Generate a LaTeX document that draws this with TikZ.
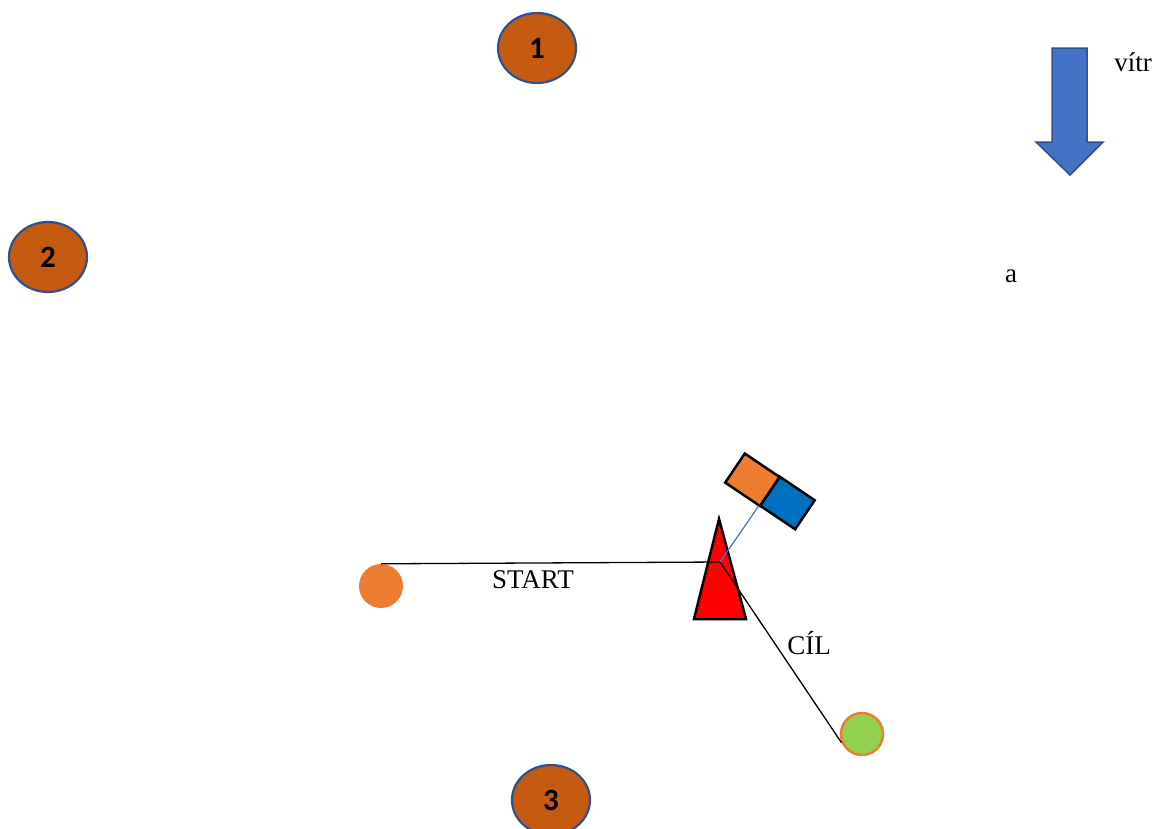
\documentclass[tikz,border=0pt]{standalone}
\usepackage{fontspec}
\setmainfont{Liberation Serif}
\newfontfamily\buoyfont{Carlito}
\usetikzlibrary{positioning}
\usetikzlibrary{shapes.geometric}

\definecolor{buoybrown}{HTML}{C55A11}
\definecolor{edgeblue}{HTML}{2F528F}
\definecolor{windblue}{HTML}{4472C4}
\definecolor{sailorange}{HTML}{ED7D31}
\definecolor{sailblue}{HTML}{0070C0}
\definecolor{goalgreen}{HTML}{92D050}

\begin{document}
\begin{tikzpicture}[x=1pt,y=-1pt,
                    font=\fontsize{27}{32}\selectfont,
                    buoy node/.style={ellipse,draw=edgeblue,line width=2.2pt,fill=buoybrown,
                                      minimum width=78pt,minimum height=70pt,inner sep=0pt,
                                      font=\buoyfont\bfseries\fontsize{31}{34}\selectfont},
                    mark node/.style={circle,minimum size=44pt,inner sep=0pt},
                    sail node/.style={rectangle,draw,line width=2.5pt,rotate=-34,
                                      minimum width=42pt,minimum height=35pt,inner sep=0pt}]

  \useasboundingbox (0,0) rectangle (1153,828);

  % buoys
  \node[buoy node] (one) at (537,48) {1};
  \node[buoy node] (two) at (48,257) {2};
  \node[buoy node] (three) at (551,800) {3};

  % wind
  \draw[draw=edgeblue,fill=windblue,line width=1.5pt]
    (1052,48) -- (1087,48) -- (1087,142) -- (1103,142) -- (1070,175)
    -- (1036,142) -- (1052,142) -- cycle;
  \node (wind) at (1133,62) {vítr};
  \node (a) at (1011,276) {a};

  % marks
  \node[mark node,fill=sailorange] (start) at (381,586) {};
  \node[mark node,fill=goalgreen,draw=sailorange,line width=2.5pt,minimum size=42pt] (finish) at (862,734) {};

  % boat
  \coordinate (mast) at (720,562);
  \draw[fill=red,line width=2.5pt,line join=miter] (719,519) -- (746,619) -- (694,619) -- cycle;

  % kite
  \node[sail node,fill=sailorange] (sailO) at (752.4,479.8) {};
  \node[sail node,fill=sailblue] (sailB) at (787.5,503) {};

  \draw[line width=1.3pt] (start.north) -- (mast);
  \draw[line width=1.3pt] (mast) -- (finish.203);
  \draw[windblue,line width=1.2pt] (mast) -- (sailB.south west);

  \node (startlabel) at (533,580) {START};
  \node (finishlabel) at (809,643) {CÍL};
\end{tikzpicture}
\end{document}
